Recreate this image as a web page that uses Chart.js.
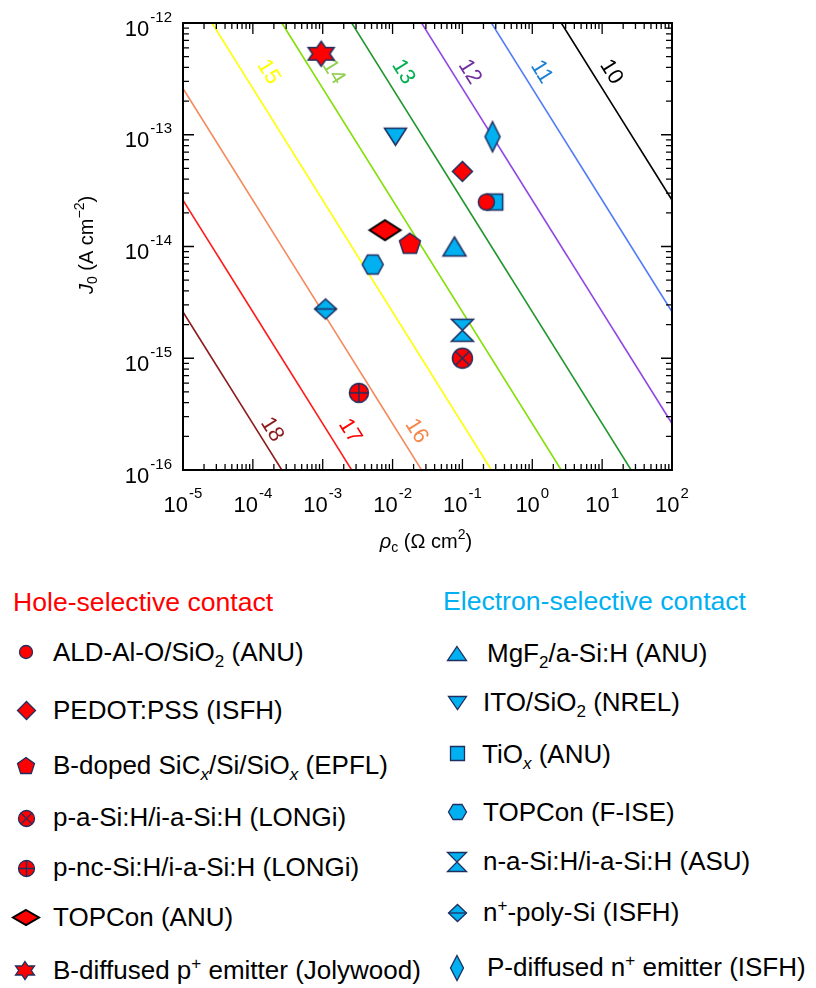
<!DOCTYPE html>
<html>
<head>
<meta charset="utf-8">
<script src="https://cdn.jsdelivr.net/npm/chart.js@4.4.0/dist/chart.umd.min.js"></script>
<style>
  body { margin: 0; background: #fff; font-family: "Liberation Sans", Arial, sans-serif; }
  #wrap { position: relative; width: 816px; height: 988px; overflow: hidden; }
  #chart { position: absolute; left: 0; top: 0; }
  .lg { position: absolute; white-space: nowrap; font-size: 26px; line-height: 26px; color: #000; }
  .lg sub, .lg sup { font-size: 17px; line-height: 0; }
  .hd { position: absolute; white-space: nowrap; font-size: 26.6px; line-height: 26px; }
  .mk { position: absolute; }
</style>
</head>
<body>
<div id="wrap">
  <canvas id="chart" width="816" height="580"></canvas>
</div>
<script>
// iso-efficiency lines: J0 at rho_c = 1 Ohm cm2 for each efficiency label
const effLabels = [10, 11, 12, 13, 14, 15, 16, 17, 18];
const isoJ0AtRho1 = [2.6e-12, 2.6e-13, 2.6e-14, 2.6e-15, 2.6e-16, 2.6e-17, 2.6e-18, 2.6e-19, 2.6e-20];
// where each line's number sits (data space)
const labelRho = [13.5, 1.35, 0.127, 0.0142, 1.42e-3, 1.67e-4, 0.022, 2.45e-3, 1.87e-4];
const labelJ0 = [3.65e-13, 3.65e-13, 3.65e-13, 3.65e-13, 3.65e-13, 3.65e-13, 2.23e-16, 2.23e-16, 2.3e-16];

// hole-selective contacts
const holeNames = [
  'ALD-Al-O/SiO<sub>2</sub> (ANU)',
  'PEDOT:PSS (ISFH)',
  'B-doped SiC<sub><i>x</i></sub>/Si/SiO<sub><i>x</i></sub> (EPFL)',
  'p-a-Si:H/i-a-Si:H (LONGi)',
  'p-nc-Si:H/i-a-Si:H (LONGi)',
  'TOPCon (ANU)',
  'B-diffused p<sup>+</sup> emitter (Jolywood)'
];
const holeRho = [0.22, 0.10, 0.0177, 0.10, 0.0033, 0.0078, 0.00095];
const holeJ0 = [2.5e-14, 4.7e-14, 1.07e-14, 1.0e-15, 4.9e-16, 1.4e-14, 5.3e-13];

// electron-selective contacts
const elecNames = [
  'MgF<sub>2</sub>/a-Si:H (ANU)',
  'ITO/SiO<sub>2</sub> (NREL)',
  'TiO<sub><i>x</i></sub> (ANU)',
  'TOPCon (F-ISE)',
  'n-a-Si:H/i-a-Si:H (ASU)',
  'n<sup>+</sup>-poly-Si (ISFH)',
  'P-diffused n<sup>+</sup> emitter (ISFH)'
];
const elecRho = [0.077, 0.011, 0.29, 0.0052, 0.10, 0.0011, 0.27];
const elecJ0 = [1.0e-14, 9.6e-14, 2.5e-14, 6.9e-15, 1.78e-15, 2.76e-15, 9.6e-14];

const xDecades = [-5, -4, -3, -2, -1, 0, 1, 2];
const yDecades = [-16, -15, -14, -13, -12];

// styles
const lineColors = ['#000000', '#4f7cf7', '#9046e3', '#1f962a', '#7fe000', '#ffff00', '#f58a5c', '#ff1a1a', '#8b1a1a'];
const labelColors = ['#000000', '#1b7fd4', '#7030a0', '#00b050', '#92d050', '#ffff00', '#f4874b', '#ff0000', '#8b1a1a'];
const RED = '#ff0000', BLUE = '#00b0f0', NAVY = '#1f2f5f';
const holeShapes = ['circle', 'diamond', 'pentagon', 'circleX', 'circlePlus', 'diamond', 'star6'];
const holeSize = [[16, 16], [20, 20], [21, 20], [20, 20], [19, 19], [31, 20], [26, 25]];
const holeLegSize = [[13, 13], [18, 18], [17, 16], [16, 16], [16, 16], [26, 15], [19, 18]];
const elecShapes = ['triUp', 'triDown', 'square', 'hexagon', 'hourglass', 'diamondLine', 'diamond'];
const elecSize = [[23, 19], [22, 17], [16, 16], [21, 19], [22, 22], [22, 20], [15, 30]];
const elecLegSize = [[19, 14], [18, 13], [14, 14], [18, 15], [19, 19], [18, 17], [13, 25]];

const FONT = '"Liberation Sans", Arial, sans-serif';

function normPoly(ctx, pts, a, b) {
  const xs = pts.map(p => p[0]), ys = pts.map(p => p[1]);
  const x0 = Math.min(...xs), x1 = Math.max(...xs), y0 = Math.min(...ys), y1 = Math.max(...ys);
  pts.forEach((p, i) => {
    const px = -a + (p[0] - x0) / (x1 - x0) * 2 * a;
    const py = -b + (p[1] - y0) / (y1 - y0) * 2 * b;
    if (i === 0) ctx.moveTo(px, py); else ctx.lineTo(px, py);
  });
  ctx.closePath();
}

function drawMarker(ctx, shape, w, h, fill, stroke, lw) {
  const a = w / 2, b = h / 2;
  ctx.beginPath();
  if (shape.startsWith('circle')) {
    ctx.ellipse(0, 0, a, b, 0, 0, Math.PI * 2);
  } else if (shape === 'diamond' || shape === 'diamondLine') {
    ctx.moveTo(0, -b); ctx.lineTo(a, 0); ctx.lineTo(0, b); ctx.lineTo(-a, 0); ctx.closePath();
  } else if (shape === 'square') {
    ctx.rect(-a, -b, w, h);
  } else if (shape === 'triUp') {
    ctx.moveTo(0, -b); ctx.lineTo(a, b); ctx.lineTo(-a, b); ctx.closePath();
  } else if (shape === 'triDown') {
    ctx.moveTo(-a, -b); ctx.lineTo(a, -b); ctx.lineTo(0, b); ctx.closePath();
  } else if (shape === 'hourglass') {
    ctx.moveTo(-a, -b); ctx.lineTo(a, -b); ctx.lineTo(0, 0); ctx.lineTo(a, b); ctx.lineTo(-a, b); ctx.lineTo(0, 0); ctx.closePath();
  } else {
    const pts = [];
    if (shape === 'pentagon') {
      for (let k = 0; k < 5; k++) { const t = (-90 + 72 * k) * Math.PI / 180; pts.push([Math.cos(t), Math.sin(t)]); }
    } else if (shape === 'hexagon') {
      for (let k = 0; k < 6; k++) { const t = (60 * k) * Math.PI / 180; pts.push([Math.cos(t), Math.sin(t)]); }
    } else if (shape === 'star6') {
      for (let k = 0; k < 12; k++) {
        const t = (-90 + 30 * k) * Math.PI / 180, r = k % 2 ? 1 / Math.sqrt(3) : 1;
        pts.push([r * Math.cos(t), r * Math.sin(t)]);
      }
    }
    normPoly(ctx, pts, a, b);
  }
  ctx.fillStyle = fill;
  ctx.fill();
  ctx.lineWidth = lw;
  ctx.strokeStyle = stroke;
  ctx.lineJoin = 'miter';
  ctx.stroke();
  ctx.beginPath();
  if (shape === 'circleX') {
    const d = a * 0.707;
    ctx.moveTo(-d, -d); ctx.lineTo(d, d); ctx.moveTo(d, -d); ctx.lineTo(-d, d);
  } else if (shape === 'circlePlus') {
    ctx.moveTo(-a, 0); ctx.lineTo(a, 0); ctx.moveTo(0, -b); ctx.lineTo(0, b);
  } else if (shape === 'diamondLine') {
    ctx.moveTo(-a, 0); ctx.lineTo(a, 0);
  }
  ctx.stroke();
}

function makeMarker(shape, size, fill, stroke, lw) {
  const c = document.createElement('canvas');
  c.width = Math.ceil(size[0] + lw * 2 + 4);
  c.height = Math.ceil(size[1] + lw * 2 + 4);
  const ctx = c.getContext('2d');
  ctx.translate(c.width / 2, c.height / 2);
  drawMarker(ctx, shape, size[0], size[1], fill, stroke, lw);
  return c;
}

// text pieces: [text, size, italic, dy]
function richWidth(ctx, parts) {
  let w = 0;
  parts.forEach(p => { ctx.font = (p[2] ? 'italic ' : '') + p[1] + 'px ' + FONT; w += ctx.measureText(p[0]).width; });
  return w;
}
function drawRich(ctx, parts, x, y) {
  parts.forEach(p => {
    ctx.font = (p[2] ? 'italic ' : '') + p[1] + 'px ' + FONT;
    ctx.fillText(p[0], x, y + p[3]);
    x += ctx.measureText(p[0]).width;
  });
}

const decorations = {
  id: 'decorations',
  beforeDatasetsDraw(chart) {
    const ctx = chart.ctx, xs = chart.scales.x, ys = chart.scales.y;
    const ang = Math.atan2(ys.getPixelForValue(1e-14) - ys.getPixelForValue(1e-13),
                           xs.getPixelForValue(10) - xs.getPixelForValue(1));
    ctx.save();
    ctx.font = '22px ' + FONT;
    ctx.textAlign = 'center';
    ctx.textBaseline = 'middle';
    effLabels.forEach((e, i) => {
      ctx.save();
      ctx.translate(xs.getPixelForValue(labelRho[i]), ys.getPixelForValue(labelJ0[i]));
      ctx.rotate(ang);
      ctx.fillStyle = labelColors[i];
      ctx.fillText(String(e), 0, 0);
      ctx.restore();
    });
    ctx.restore();
  },
  afterDraw(chart) {
    const ctx = chart.ctx, xs = chart.scales.x, ys = chart.scales.y, ca = chart.chartArea;
    ctx.save();
    ctx.strokeStyle = '#000';
    ctx.lineWidth = 1.3;
    ctx.beginPath();
    // ticks on all four sides, pointing inwards
    xDecades.forEach((d, i) => {
      const px = xs.getPixelForValue(Math.pow(10, d));
      ctx.moveTo(px, ca.bottom); ctx.lineTo(px, ca.bottom - 11);
      ctx.moveTo(px, ca.top); ctx.lineTo(px, ca.top + 11);
      if (i < xDecades.length - 1) {
        for (let k = 2; k < 10; k++) {
          const pm = xs.getPixelForValue(k * Math.pow(10, d));
          ctx.moveTo(pm, ca.bottom); ctx.lineTo(pm, ca.bottom - 6);
          ctx.moveTo(pm, ca.top); ctx.lineTo(pm, ca.top + 6);
        }
      }
    });
    yDecades.forEach((d, i) => {
      const py = ys.getPixelForValue(Math.pow(10, d));
      ctx.moveTo(ca.left, py); ctx.lineTo(ca.left + 11, py);
      ctx.moveTo(ca.right, py); ctx.lineTo(ca.right - 11, py);
      if (i < yDecades.length - 1) {
        for (let k = 2; k < 10; k++) {
          const pm = ys.getPixelForValue(k * Math.pow(10, d));
          ctx.moveTo(ca.left, pm); ctx.lineTo(ca.left + 6, pm);
          ctx.moveTo(ca.right, pm); ctx.lineTo(ca.right - 6, pm);
        }
      }
    });
    ctx.stroke();
    ctx.lineWidth = 2;
    ctx.strokeRect(ca.left, ca.top, ca.right - ca.left, ca.bottom - ca.top);

    // tick labels 10^n
    ctx.fillStyle = '#000';
    ctx.textAlign = 'left';
    ctx.textBaseline = 'alphabetic';
    ctx.font = '22px ' + FONT;
    const wb = ctx.measureText('10').width;
    xDecades.forEach(d => {
      const w = richWidth(ctx, [['10', 22, false, 0], [String(d), 15, false, -14]]) + 1;
      const left = xs.getPixelForValue(Math.pow(10, d)) - w / 2;
      drawRich(ctx, [['10', 22, false, 0]], left, 511.5);
      drawRich(ctx, [[String(d), 15, false, -14]], left + wb + 1, 511.5);
    });
    yDecades.forEach(d => {
      const py = ys.getPixelForValue(Math.pow(10, d));
      const w = richWidth(ctx, [['10', 22, false, 0], [String(d), 15, false, -14]]) + 1;
      drawRich(ctx, [['10', 22, false, 0]], 172 - w, py + 12.5);
      drawRich(ctx, [[String(d), 15, false, -14]], 172 - w + wb + 1, py + 12.5);
    });

    // axis titles
    const xt = [['\u03c1', 20, true, 0], ['c', 14, false, 4], [' (\u03a9 cm', 20, false, 0], ['2', 14, false, -9], [')', 20, false, 0]];
    drawRich(ctx, xt, 426 - richWidth(ctx, xt) / 2, 548);
    const yt = [['J', 20, true, 0], ['0', 14, false, 4], [' (A cm', 20, false, 0], ['\u22122', 14, false, -9], [')', 20, false, 0]];
    ctx.translate(93, 245);
    ctx.rotate(-Math.PI / 2);
    drawRich(ctx, yt, -richWidth(ctx, yt) / 2, 0);
    ctx.restore();
  }
};

const datasets = [];
holeNames.forEach((n, i) => {
  datasets.push({
    label: n.replace(/<[^>]+>/g, ''),
    data: [{ x: holeRho[i], y: holeJ0[i] }],
    pointStyle: makeMarker(holeShapes[i], holeSize[i], RED, i === 5 ? '#000' : NAVY, i === 5 ? 2 : 1.5),
    order: 1
  });
});
elecNames.forEach((n, i) => {
  datasets.push({
    label: n.replace(/<[^>]+>/g, ''),
    data: [{ x: elecRho[i], y: elecJ0[i] }],
    pointStyle: makeMarker(elecShapes[i], elecSize[i], BLUE, NAVY, 1.5),
    order: 1
  });
});
effLabels.forEach((e, i) => {
  datasets.push({
    label: e + '%',
    data: [{ x: 1e-5, y: isoJ0AtRho1[i] / 1e-5 }, { x: 1e2, y: isoJ0AtRho1[i] / 1e2 }],
    showLine: true,
    borderColor: lineColors[i],
    borderWidth: 1.6,
    pointRadius: 0,
    clip: 0,
    order: 2
  });
});

new Chart(document.getElementById('chart'), {
  type: 'scatter',
  data: { datasets },
  options: {
    responsive: false,
    animation: false,
    layout: { padding: { left: 183, right: 144, top: 23, bottom: 110 } },
    plugins: { legend: { display: false }, tooltip: { enabled: false } },
    scales: {
      x: {
        type: 'logarithmic', min: 1e-5, max: 1e2,
        grid: { display: false, drawTicks: false }, border: { display: false },
        ticks: { display: false },
        afterFit: s => { s.height = 0; }
      },
      y: {
        type: 'logarithmic', min: 1e-16, max: 1e-12,
        grid: { display: false, drawTicks: false }, border: { display: false },
        ticks: { display: false },
        afterFit: s => { s.width = 0; }
      }
    }
  },
  plugins: [decorations]
});

// legend below the plot
const wrap = document.getElementById('wrap');
function addHead(text, x, y, color) {
  const d = document.createElement('div');
  d.className = 'hd';
  d.style.left = x + 'px';
  d.style.top = (y - 12.9) + 'px';
  d.style.color = color;
  d.textContent = text;
  wrap.appendChild(d);
}
function addEntry(html, tx, y, shape, size, mx, my, fill, stroke, lw) {
  const m = makeMarker(shape, size, fill, stroke, lw);
  m.className = 'mk';
  m.style.left = (mx - m.width / 2) + 'px';
  m.style.top = (my - m.height / 2) + 'px';
  wrap.appendChild(m);
  const d = document.createElement('div');
  d.className = 'lg';
  d.style.left = tx + 'px';
  d.style.top = (y - 12.7) + 'px';
  d.innerHTML = html;
  wrap.appendChild(d);
}
const holeRowY = [652, 710, 765, 817, 867, 917, 970];
const holeMarkY = [651.7, 710, 765, 818.3, 868.3, 917.3, 970.7];
const elecRowY = [652.5, 702, 754, 811.7, 860.5, 912, 967];
const elecMarkY = [653.3, 702.7, 753.3, 812.3, 861.7, 913.3, 968.3];
const elecTextX = [487, 483, 482, 483, 483, 483, 487];

addHead('Hole-selective contact', 13, 602, RED);
addHead('Electron-selective contact', 443, 601, BLUE);
holeNames.forEach((n, i) => {
  addEntry(n, 53, holeRowY[i], holeShapes[i], holeLegSize[i], i === 6 ? 25 : 26, holeMarkY[i],
           RED, i === 5 ? '#000' : NAVY, i === 5 ? 2 : 1.3);
});
elecNames.forEach((n, i) => {
  addEntry(n, elecTextX[i], elecRowY[i], elecShapes[i], elecLegSize[i], 457, elecMarkY[i], BLUE, NAVY, 1.3);
});
</script>
</body>
</html>
